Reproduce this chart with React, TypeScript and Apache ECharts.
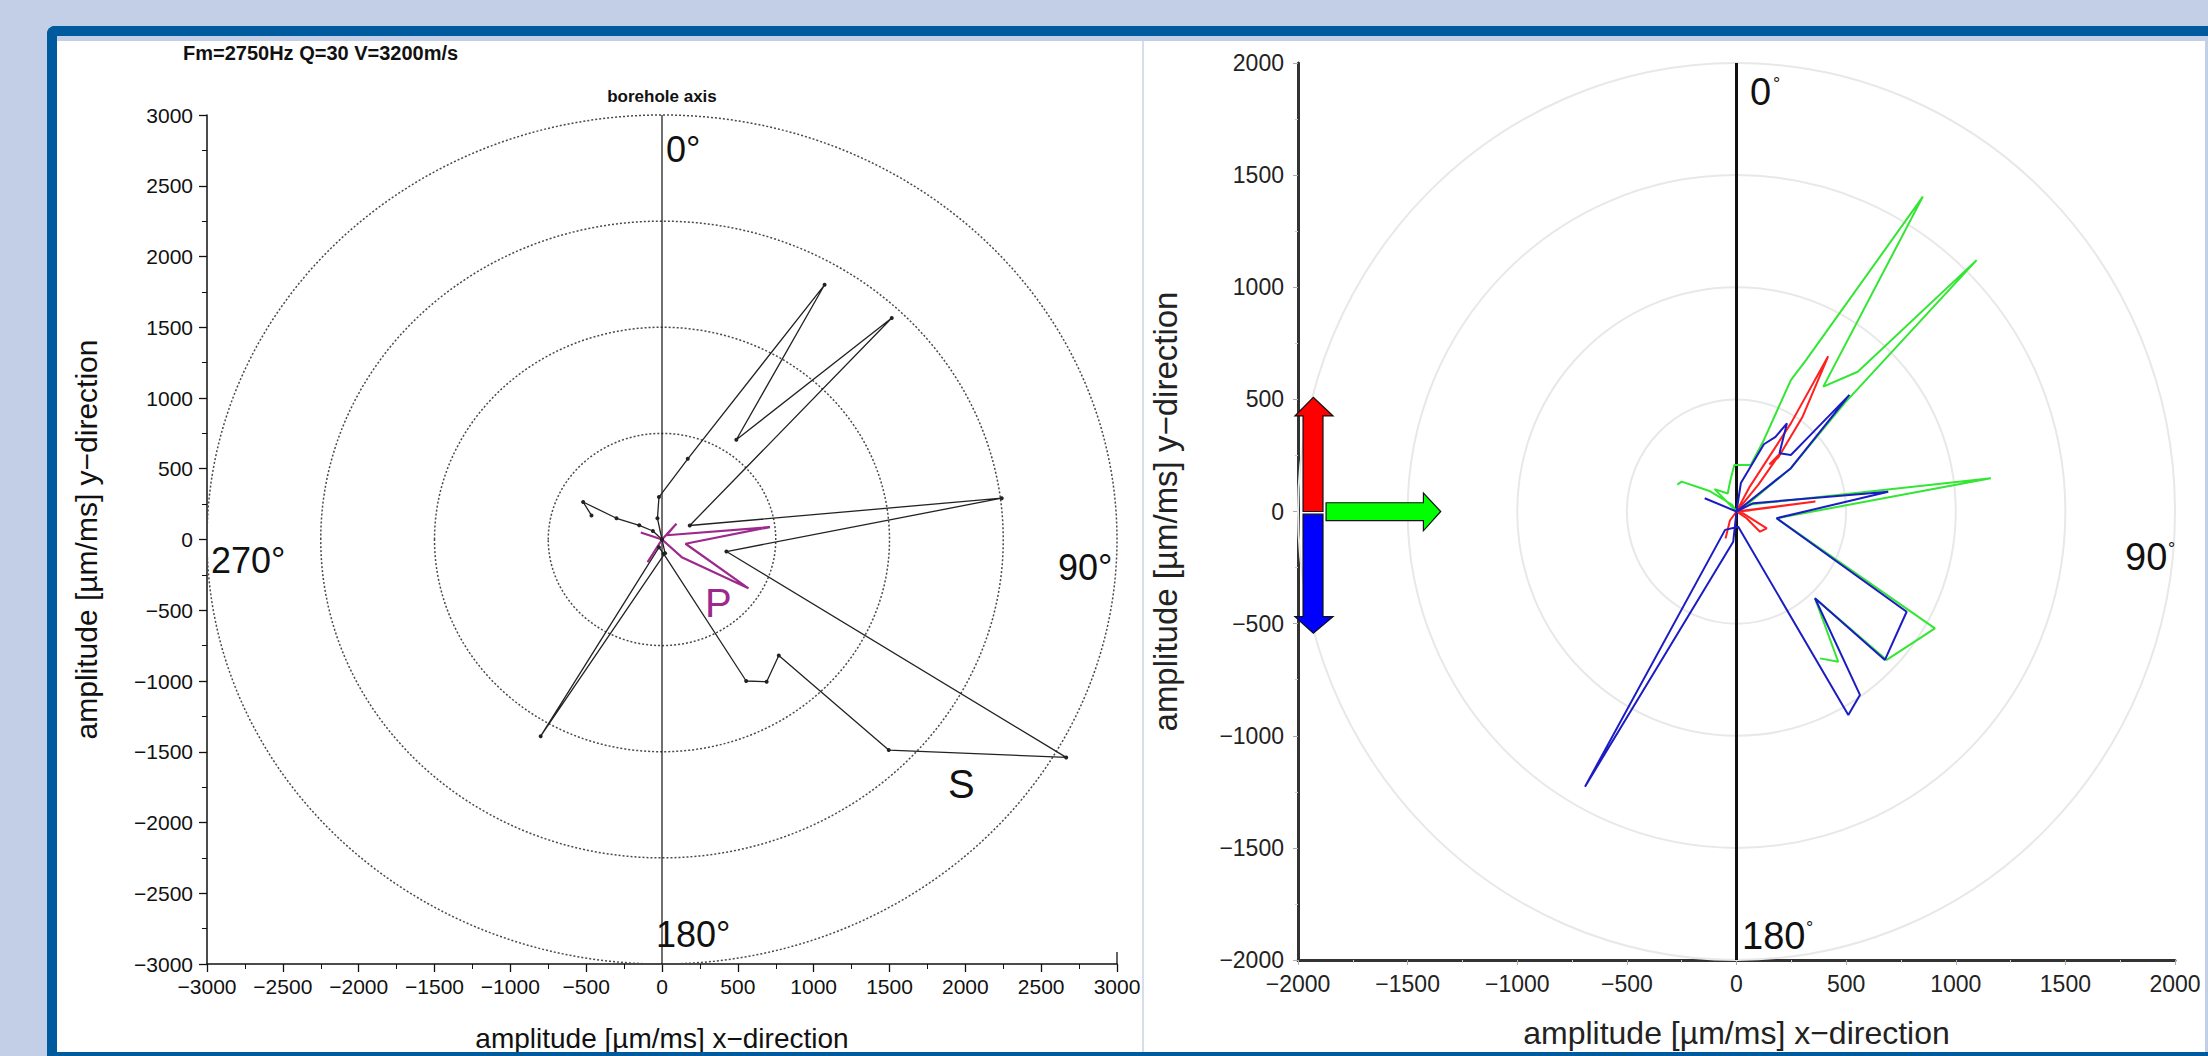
import React, { useEffect, useRef } from "react";
import * as echarts from "echarts";

// ---------- data ----------
const ringsLeft = [750, 1500, 2250, 3000];
const ringsRight = [500, 1000, 1500, 2000];

// S-wave particle motion (left, black)
const sWave: number[][] = [
  [-465, 170], [-520, 265], [-300, 150], [-150, 100], [-60, 60], [0, 0],
  [-30, 150], [-20, 300], [170, 570], [1072, 1800], [490, 705], [1515, 1565],
  [183, 99], [2240, 292], [425, -85], [2665, -1540], [1495, -1488], [770, -820],
  [690, -1005], [555, -1000], [10, -100], [-20, -55], [-800, -1390], [20, -97], [0, 0],
];
// P-wave particle motion (left, purple)
const pWave: number[][] = [
  [0, 0], [-140, 50], [0, 0], [95, 112], [30, 30], [712, 88], [155, -30],
  [570, -345], [130, -125], [0, 0], [-95, -160], [0, 0],
];

// right panel components
const greenLine: number[][] = [
  [-270, 120], [-250, 133], [-120, 90], [-20, 30], [0, 0], [-100, 100], [-40, 80],
  [-30, 130], [-10, 207], [65, 207], [125, 319], [248, 586], [317, 675], [850, 1404],
  [396, 557], [553, 623], [1095, 1121], [492, 482], [248, 193], [60, 40], [0, 0],
  [50, 30], [1160, 148], [183, -30], [905, -521], [685, -662], [358, -387],
  [464, -670], [381, -655],
];
const redLine: number[][] = [
  [0, 0], [60, 110], [248, 393], [418, 692], [300, 420], [190, 240], [150, 210],
  [200, 260], [100, 120], [0, 0], [360, 45], [60, 5], [0, 0], [30, -8], [138, -75],
  [107, -90], [46, -30], [0, 0], [-30, -40], [-50, -120],
];
const blueLine: number[][] = [
  [-145, 59], [0, 0], [20, 127], [125, 300], [178, 333], [230, 393], [196, 260],
  [248, 252], [352, 356], [515, 520], [248, 193], [0, 0], [77, 37], [692, 88],
  [183, -30], [776, -447], [677, -662], [358, -387], [563, -818], [510, -907],
  [8, -68], [-52, -82], [-691, -1227], [-15, -135], [0, 0],
];

// direction arrows (right panel, data units)
const arrowRed: number[][] = [
  [-1977, 0], [-1886, 0], [-1886, 426], [-1840, 426], [-1930, 509], [-2014, 426], [-1977, 426],
];
const arrowBlue: number[][] = [
  [-1977, -12], [-1886, -12], [-1886, -469], [-1840, -469], [-1930, -543], [-2014, -469], [-1977, -469],
];
const arrowGreen: number[][] = [
  [-1872, 39], [-1428, 39], [-1428, 82], [-1349, 0], [-1428, -86], [-1428, -41], [-1872, -41],
];

const F = "'Liberation Sans', Arial, Helvetica, sans-serif";
const minus = (v: number) => String(v).replace("-", "\u2212");

function ringSeries(rings: number[], idx: number, style: any) {
  return {
    type: "custom",
    xAxisIndex: idx,
    yAxisIndex: idx,
    clip: false,
    silent: true,
    z: 1,
    data: rings.map((r) => [0, 0, r]),
    encode: { x: 0, y: 1 },
    renderItem: (_p: any, api: any) => {
      const r = api.value(2);
      const c = api.coord([0, 0]);
      const e = api.coord([r, r]);
      return {
        type: "ellipse",
        shape: { cx: c[0], cy: c[1], rx: Math.abs(e[0] - c[0]), ry: Math.abs(c[1] - e[1]) },
        style: { fill: "none", ...style },
      };
    },
  };
}

function arrowSeries() {
  const defs = [
    { pts: arrowRed, fill: "#ff0000" },
    { pts: arrowBlue, fill: "#0000ff" },
    { pts: arrowGreen, fill: "#00ff00" },
  ];
  return {
    type: "custom",
    xAxisIndex: 1,
    yAxisIndex: 1,
    clip: false,
    silent: true,
    z: 5,
    data: defs.map((d, i) => [d.pts[0][0], d.pts[0][1], i]),
    encode: { x: 0, y: 1 },
    renderItem: (_p: any, api: any) => {
      const d = defs[api.value(2)];
      return {
        type: "polygon",
        shape: { points: d.pts.map((p) => api.coord(p)) },
        style: { fill: d.fill, stroke: "#111", lineWidth: 1.2 },
      };
    },
  };
}

function line(data: number[][], idx: number, color: string, width: number, symbol = false) {
  return {
    type: "line",
    xAxisIndex: idx,
    yAxisIndex: idx,
    data,
    clip: false,
    silent: true,
    z: 3,
    showSymbol: symbol,
    symbol: "circle",
    symbolSize: 4,
    itemStyle: { color },
    lineStyle: { color, width },
  };
}

function txt(text: string, x: number, y: number, size: number, opts: any = {}) {
  return {
    type: "text",
    z: 50,
    style: {
      text,
      x,
      y,
      fill: opts.fill || "#111",
      font: `${opts.bold ? "bold " : ""}${size}px ${F}`,
      textAlign: opts.align || "left",
      textVerticalAlign: "middle",
    },
  };
}

export default function App() {
  const ref = useRef<HTMLDivElement>(null);
  useEffect(() => {
    if (!ref.current) return;
    const chart = echarts.init(ref.current, undefined, { renderer: "svg" });
    const axisCommonLeft = {
      type: "value",
      min: -3000,
      max: 3000,
      interval: 500,
      splitLine: { show: false },
      axisLine: { onZero: false, lineStyle: { color: "#111", width: 1.5 } },
      axisTick: { show: true, length: 8, lineStyle: { color: "#111", width: 1.3 } },
      minorTick: { show: true, splitNumber: 2, length: 5, lineStyle: { color: "#111" } },
      axisLabel: { fontSize: 21, color: "#111", fontFamily: F, formatter: minus },
      nameLocation: "middle",
      nameTextStyle: { fontSize: 30, color: "#111", fontFamily: F },
      name: "",
    };
    const axisCommonRight = {
      type: "value",
      min: -2000,
      max: 2000,
      interval: 500,
      splitLine: { show: false },
      axisLine: { onZero: false, lineStyle: { color: "#333", width: 3 } },
      axisTick: { show: true, length: 5, lineStyle: { color: "#aaa", width: 1 } },
      minorTick: { show: true, splitNumber: 2, length: 3, lineStyle: { color: "#ccc" } },
      axisLabel: { fontSize: 23, color: "#222", fontFamily: F, formatter: minus },
      nameLocation: "middle",
      nameTextStyle: { fontSize: 32, color: "#222", fontFamily: F },
      name: "",
    };
    const option: any = {
      animation: false,
      backgroundColor: "#c3cfe6",
      grid: [
        { left: 207, top: 115, width: 910, height: 849, containLabel: false, outerBoundsMode: "none" },
        { left: 1298, top: 63, width: 877, height: 897, containLabel: false, outerBoundsMode: "none" },
      ],
      xAxis: [
        {
          ...axisCommonLeft,
          gridIndex: 0,
          position: "bottom",
          name: "amplitude [\u00b5m/ms] x\u2212direction",
          nameGap: 60,
          nameTextStyle: { ...axisCommonLeft.nameTextStyle, fontSize: 28 },
          axisLabel: { ...axisCommonLeft.axisLabel, margin: 12 },
        },
        {
          ...axisCommonRight,
          gridIndex: 1,
          position: "bottom",
          name: "amplitude [\u00b5m/ms] x\u2212direction",
          nameGap: 57,
          axisLabel: { ...axisCommonRight.axisLabel, margin: 12 },
        },
      ],
      yAxis: [
        {
          ...axisCommonLeft,
          gridIndex: 0,
          position: "left",
          name: "amplitude [\u00b5m/ms] y\u2212direction",
          nameGap: 106,
          axisLabel: { ...axisCommonLeft.axisLabel, margin: 14 },
        },
        {
          ...axisCommonRight,
          gridIndex: 1,
          position: "left",
          name: "amplitude [\u00b5m/ms] y\u2212direction",
          nameGap: 116,
          nameTextStyle: { ...axisCommonRight.nameTextStyle, fontSize: 33 },
          axisLabel: { ...axisCommonRight.axisLabel, margin: 14 },
        },
      ],
      series: [
        ringSeries(ringsLeft, 0, { stroke: "#4a4a4a", lineWidth: 1.5, lineDash: [2, 2] }),
        ringSeries(ringsRight, 1, { stroke: "#e8e8e8", lineWidth: 2 }),
        line([[0, 3000], [0, -3000]], 0, "#111", 1.2),
        line([[0, 2000], [0, -2000]], 1, "#111", 3),
        line(sWave, 0, "#222", 1.3, true),
        line(pWave, 0, "#9c2a8c", 2.2),
        line(greenLine, 1, "#33e633", 2),
        line(redLine, 1, "#ff2020", 2),
        line(blueLine, 1, "#1c1cc4", 2),
        arrowSeries(),
      ],
      graphic: [
        { type: "rect", z: -20, shape: { x: 57, y: 41, width: 2148, height: 1011 }, style: { fill: "#ffffff" } },
        { type: "rect", z: 60, shape: { x: 47, y: 26, width: 2161, height: 10, r: [8, 0, 0, 0] }, style: { fill: "#005a9e" } },
        { type: "rect", z: 60, shape: { x: 47, y: 26, width: 10, height: 1030, r: [8, 0, 0, 0] }, style: { fill: "#005a9e" } },
        { type: "rect", z: 60, shape: { x: 47, y: 1052, width: 2161, height: 4 }, style: { fill: "#005a9e" } },
        { type: "rect", z: 60, shape: { x: 57, y: 36, width: 2151, height: 5 }, style: { fill: "#c3cfe6" } },
        { type: "rect", z: 60, shape: { x: 2205, y: 36, width: 3, height: 1016 }, style: { fill: "#c3cfe6" } },
        { type: "line", z: 10, shape: { x1: 1143, y1: 41, x2: 1143, y2: 1052 }, style: { stroke: "#c9d2e4", lineWidth: 1.5 } },
        { type: "line", z: 10, shape: { x1: 1117, y1: 964, x2: 1117, y2: 952 }, style: { stroke: "#111", lineWidth: 1.3 } },
        txt("Fm=2750Hz Q=30 V=3200m/s", 183, 53, 20, { bold: true }),
        txt("borehole axis", 662, 96, 17, { bold: true, align: "center" }),
        txt("0°", 666, 149, 36),
        txt("270°", 211, 560, 36),
        txt("90°", 1058, 567, 36),
        txt("180°", 656, 934, 36),
        txt("P", 705, 603, 40, { fill: "#9c2a8c" }),
        txt("S", 948, 784, 40),
        txt("0", 1750, 92, 38),
        txt("°", 1773, 84, 18),
        txt("90", 2125, 557, 38),
        txt("°", 2168, 549, 18),
        txt("180", 1742, 936, 38),
        txt("°", 1806, 928, 18),
      ],
    };
    chart.setOption(option);
    return () => chart.dispose();
  }, []);
  return (
    <div
      ref={ref}
      style={{ position: "absolute", left: 0, top: 0, width: 2208, height: 1056 }}
    />
  );
}
